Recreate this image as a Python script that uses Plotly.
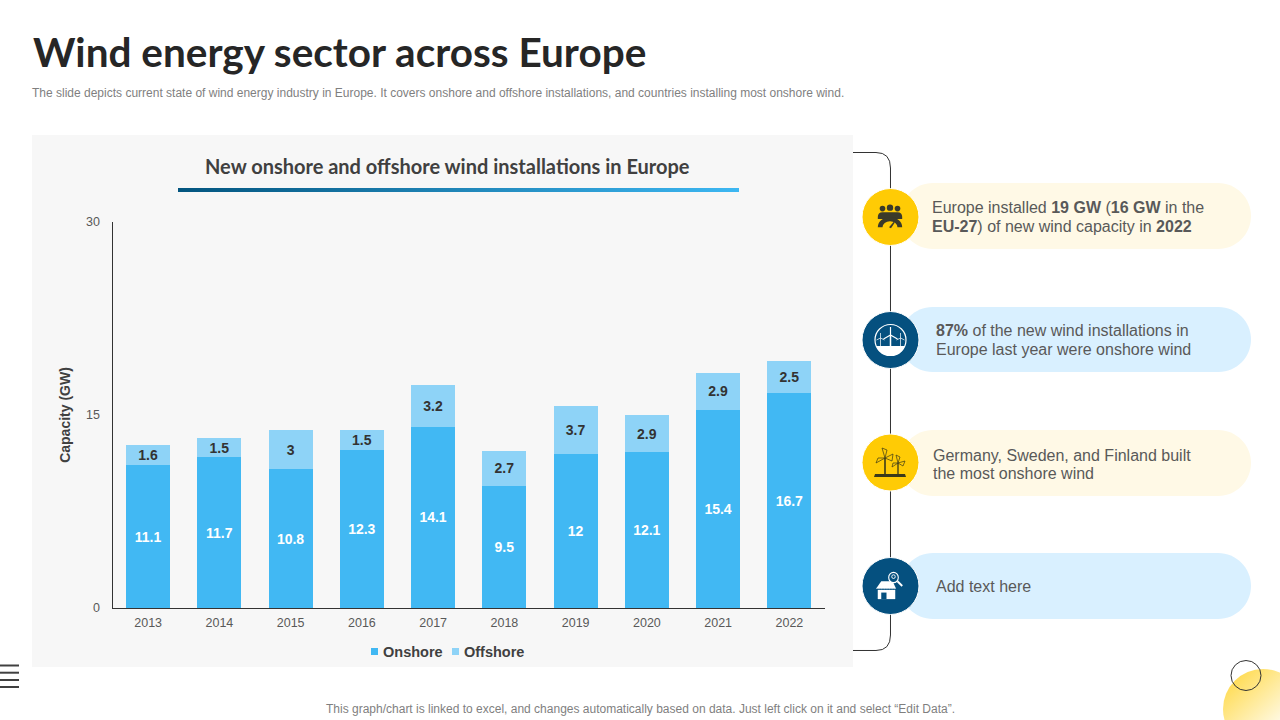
import base64
import plotly.graph_objects as go

years = ["2013","2014","2015","2016","2017","2018","2019","2020","2021","2022"]
onshore = [11.1,11.7,10.8,12.3,14.1,9.5,12,12.1,15.4,16.7]
offshore = [1.6,1.5,3,1.5,3.2,2.7,3.7,2.9,2.9,2.5]
y_ticks = [0,15,30]

TITLE = "Wind energy sector across Europe"
SUBTITLE = "The slide depicts current state of wind energy industry in Europe. It covers onshore and offshore installations, and countries installing most onshore wind."
CHART_TITLE = "New onshore and offshore wind installations in Europe"
FOOTER = "This graph/chart is linked to excel, and changes automatically based on data. Just left click on it and select “Edit Data”."

ARIAL = "Liberation Sans"
HEAD = "Lato"
GREY = "#595959"
DARK = "#404040"
ON_COLOR = "#41B8F3"
OFF_COLOR = "#8ED3F7"

def X(x): return x/1280
def Y(y): return 1-y/720
def P(x,y): return f"{X(x):.5f},{Y(y):.5f}"

shapes=[]; ann=[]; images=[]

def rect(x0,y0,x1,y1,color,layer="below"):
    shapes.append(dict(type="rect",xref="paper",yref="paper",x0=X(x0),x1=X(x1),y0=Y(y0),y1=Y(y1),
                       fillcolor=color,line=dict(width=0),layer=layer))
def circle(cx,cy,r,fill,line=None,layer="below"):
    shapes.append(dict(type="circle",xref="paper",yref="paper",x0=X(cx-r),x1=X(cx+r),y0=Y(cy-r),y1=Y(cy+r),
                       fillcolor=fill,line=dict(width=1 if line else 0,color=line or fill),layer=layer))
def pill(x0,y0,x1,y1,color):
    r=(y1-y0)/2; k=0.5523*r
    d=(f"M{P(x0+r,y0)} L{P(x1-r,y0)} C{P(x1-r+k,y0)} {P(x1,y0+r-k)} {P(x1,y0+r)} "
       f"C{P(x1,y1-r+k)} {P(x1-r+k,y1)} {P(x1-r,y1)} L{P(x0+r,y1)} "
       f"C{P(x0+r-k,y1)} {P(x0,y1-r+k)} {P(x0,y0+r)} C{P(x0,y0+r-k)} {P(x0+r-k,y0)} {P(x0+r,y0)} Z")
    shapes.append(dict(type="path",xref="paper",yref="paper",path=d,fillcolor=color,line=dict(width=0),layer="below"))
def text(x,y,s,size,color=GREY,family=ARIAL,anchor="left",**kw):
    ann.append(dict(x=X(x),y=Y(y),xref="paper",yref="paper",text=s,showarrow=False,xanchor=anchor,yanchor="middle",
                    font=dict(size=size,color=color,family=family),align=anchor,borderpad=0,**kw))
def svg_image(svg,x,y,w,h,layer="above"):
    uri="data:image/svg+xml;base64,"+base64.b64encode(svg.encode()).decode()
    images.append(dict(source=uri,xref="paper",yref="paper",x=X(x),y=Y(y),sizex=w/1280,sizey=h/720,
                       xanchor="left",yanchor="top",sizing="stretch",layer=layer))

# panel
rect(32,135,853,667,"#F7F7F7")

# connector line
shapes.append(dict(type="path",xref="paper",yref="paper",
    path=f"M{P(853,152.5)} L{P(876,152.5)} Q{P(890.5,152.5)} {P(890.5,168)} L{P(890.5,635)} Q{P(890.5,650.5)} {P(876,650.5)} L{P(853,650.5)}",
    line=dict(color="#333333",width=1),layer="below"))

# pills and circles
for (y0,y1,c) in [(183,249,"#FFF9E6"),(307,372,"#D9F0FF"),(430,496,"#FFF9E6"),(553,619,"#D9F0FF")]:
    pill(900,y0,1251,y1,c)
for (cy,c) in [(217,"#FFCB05"),(340,"#05507F"),(462.5,"#FFCB05"),(586,"#05507F")]:
    circle(890.5,cy,28.5,c,line="#FFFFFF")

# title texts
text(31.5,52,f"<b>{TITLE}</b>",40.5,color="#262626",family=HEAD)
text(31,93,SUBTITLE,12,color="#7F7F7F")
text(447.5,166,f"<b>{CHART_TITLE}</b>",20,color=DARK,family=HEAD,anchor="center")
text(640,708.5,FOOTER,12,color="#7F7F7F",anchor="center")

# pill text
text(930.5,207.5,"Europe installed <b>19 GW</b> (<b>16 GW</b> in the",16)
text(930.5,226.5,"<b>EU-27</b>) of new wind capacity in <b>2022</b>",16)
text(934.5,330.5,"<b>87%</b> of the new wind installations in",16)
text(934.5,349.5,"Europe last year were onshore wind",16)
text(931.5,455,"Germany, Sweden, and Finland built",16)
text(931.5,473.5,"the most onshore wind",16)
text(935,586,"Add text here",16)

# legend
rect(371,648,378,655,ON_COLOR)
text(381.5,652,"<b>Onshore</b>",14.5,color=DARK)
rect(452,648,459,655,OFF_COLOR)
text(462.5,652,"<b>Offshore</b>",14.5,color=DARK)

# title rule gradient
svg_image('<svg xmlns="http://www.w3.org/2000/svg" width="561" height="4" preserveAspectRatio="none"><defs><linearGradient id="g"><stop offset="0" stop-color="#03557F"/><stop offset="1" stop-color="#3DB7F2"/></linearGradient></defs><rect width="561" height="4" fill="url(#g)"/></svg>',178,188,561,4)

# corner bubble
svg_image('<svg xmlns="http://www.w3.org/2000/svg" width="80" height="80"><defs><linearGradient id="b" x1="0.15" y1="0.1" x2="0.8" y2="0.8"><stop offset="0" stop-color="#FFDC55"/><stop offset="1" stop-color="#FFFFFF"/></linearGradient></defs><circle cx="40" cy="40" r="40" fill="url(#b)"/></svg>',1223,669,80,80,layer="below")
circle(1246,675.5,15,"rgba(0,0,0,0)",line="#333333")

# hamburger
for y in [665.5,672.7,680,687]:
    rect(0,y-1,19,y+1,"#404040")

# icons
ic_people='''<svg xmlns="http://www.w3.org/2000/svg" viewBox="0 0 32 32" width="32" height="32"><g fill="#3A3A2A">
<circle cx="8" cy="7" r="3"/><circle cx="16" cy="6" r="3.4"/><circle cx="24" cy="7" r="3"/>
<path d="M3 16 q0 -5 5 -5 h16 q5 0 5 5 v2 H3z"/>
<path d="M3 27 a13 11 0 0 1 26 0 h-5 a8 6.5 0 0 0 -16 0z"/>
<path d="M15 27 l5 -6 1 1 -4 6z"/></g></svg>'''
ic_wind='''<svg xmlns="http://www.w3.org/2000/svg" viewBox="0 0 34 34" width="34" height="34">
<circle cx="17" cy="17" r="15.5" fill="none" stroke="#FFFFFF" stroke-width="1.2"/>
<path d="M2.5 23 h29 a15.5 15.5 0 0 1 -29 0z" fill="#FFFFFF"/>
<g stroke="#FFFFFF" fill="none"><path d="M17 12 V25" stroke-width="1.5"/><path d="M17 12 L17 4 M17 12 L10 16 M17 12 L24 16" stroke-width="1.2"/>
<path d="M7 15 V25 M7 15 L7 10 M7 15 L3 17 M7 15 L11 17 M27 15 V25 M27 15 L27 10 M27 15 L23 17 M27 15 L31 17" stroke-width="0.7"/></g></svg>'''
ic_turb='''<svg xmlns="http://www.w3.org/2000/svg" viewBox="0 0 32 32" width="32" height="32"><g stroke="#3A3A1A" fill="none">
<path d="M11 12 V28" stroke-width="1.6"/><path d="M24 17 V28" stroke-width="1.3"/>
<path d="M11 12 L8 2 L13 4z M11 12 L19 8 L18 15z M11 12 L2 17 L4 12z" stroke-width="0.7"/>
<path d="M24 17 L22 9 L26 11z M24 17 L31 15 L29 20z M24 17 L18 21 L19 17z" stroke-width="0.7"/></g>
<path d="M1 28 h30 l1 3 h-32z" fill="#3A3A1A"/></svg>'''
ic_store='''<svg xmlns="http://www.w3.org/2000/svg" viewBox="0 0 32 32" width="32" height="32"><g fill="#FFFFFF">
<path d="M6 11 h13 l4 8 h-23z"/><path d="M2 20 h20 v10 h-20z"/></g>
<path d="M6 23 h6 v7 h-6z" fill="#05507F"/><path d="M1 19.5 h22" stroke="#05507F" stroke-width="0.8" stroke-dasharray="2 1"/>
<circle cx="20" cy="7" r="5.5" fill="#05507F" stroke="#FFFFFF" stroke-width="1.3"/><circle cx="20" cy="6" r="2" fill="none" stroke="#FFFFFF"/>
<path d="M24.5 11 L30 16" stroke="#FFFFFF" stroke-width="2.2"/></svg>'''
svg_image(ic_people,875,202,30,30)
svg_image(ic_wind,873.5,323,34,34)
svg_image(ic_turb,874,446,32,32)
svg_image(ic_store,876,571,28,30)

fig=go.Figure()
fig.add_bar(name="Onshore",x=years,y=onshore,text=onshore,marker=dict(color=ON_COLOR,line=dict(width=0)),
            textposition="inside",insidetextanchor="middle",constraintext="none",
            insidetextfont=dict(color="#FFFFFF",size=14,family=ARIAL,weight="bold"))
fig.add_bar(name="Offshore",x=years,y=offshore,text=offshore,marker=dict(color=OFF_COLOR,line=dict(width=0)),
            textposition="inside",insidetextanchor="middle",constraintext="none",
            insidetextfont=dict(color="#333333",size=14,family=ARIAL,weight="bold"))

fig.update_layout(
    width=1280,height=720,margin=dict(l=0,r=0,t=0,b=0),autosize=False,showlegend=False,
    paper_bgcolor="#FFFFFF",plot_bgcolor="rgba(0,0,0,0)",
    barmode="stack",bargap=0.385,
    font=dict(family=ARIAL,color=GREY,size=12),
    shapes=shapes,annotations=ann,images=images,
    xaxis=dict(domain=[X(112.5),X(825)],type="category",showgrid=False,showline=True,linecolor="#333333",linewidth=1,automargin=False,
               ticks="outside",ticklen=3,tickcolor="rgba(0,0,0,0)",tickfont=dict(size=12.5,color=GREY),zeroline=False),
    yaxis=dict(domain=[Y(608),Y(222)],range=[0,30],tickvals=y_ticks,showgrid=False,showline=True,linecolor="#333333",linewidth=1,automargin=False,
               ticks="outside",ticklen=9,tickcolor="rgba(0,0,0,0)",tickfont=dict(size=12.5,color=GREY),zeroline=False,
               title=dict(text="<b>Capacity (GW)</b>",font=dict(size=14,color=DARK,family=ARIAL),standoff=12)),
)
fig.write_html("out.html",config=dict(displayModeBar=False),
               post_script="document.body.style.margin='0';document.documentElement.style.overflow='hidden';")
